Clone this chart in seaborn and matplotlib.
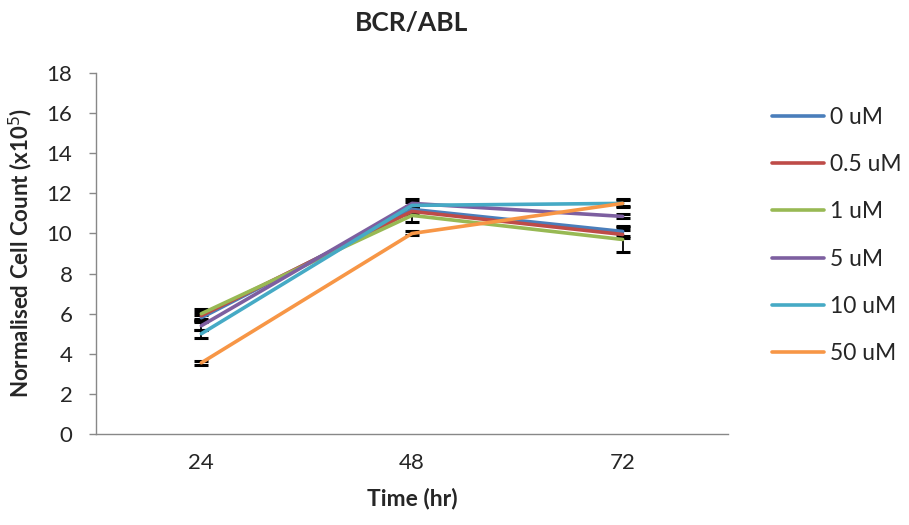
import pandas as pd
import matplotlib.pyplot as plt
import seaborn as sns

# Data
times = ["24", "48", "72"]
doses = ["0 uM", "0.5 uM", "1 uM", "5 uM", "10 uM", "50 uM"]
counts_0 = [5.8, 11.2, 10.1]
counts_05 = [5.9, 11.1, 9.95]
counts_1 = [6.0, 10.9, 9.7]
counts_5 = [5.4, 11.5, 10.85]
counts_10 = [5.0, 11.4, 11.5]
counts_50 = [3.55, 10.0, 11.5]
err_0 = [0.15, 0.15, 0.25]
err_05 = [0.2, 0.2, 0.2]
err_1 = [0.25, 0.35, 0.6]
err_5 = [0.2, 0.2, 0.1]
err_10 = [0.2, 0.15, 0.15]
err_50 = [0.1, 0.1, 0.2]
colors = ["#4A7EBB", "#BE4B48", "#98B954", "#7D5FA0", "#46AAC5", "#F79646"]

all_counts = [counts_0, counts_05, counts_1, counts_5, counts_10, counts_50]
all_errs = [err_0, err_05, err_1, err_5, err_10, err_50]

rows = []
for dose, vals, errs in zip(doses, all_counts, all_errs):
    for t, v, e in zip(times, vals, errs):
        rows.append({"Time": t, "Dose": dose, "Count": v, "Err": e})
df = pd.DataFrame(rows)

sns.set_style("white")
plt.rcParams["font.family"] = ["Lato", "DejaVu Sans"]

fig = plt.figure(figsize=(9.09, 5.25), dpi=100)
ax = fig.add_axes([0.1056, 0.1733, 0.6953, 0.6876])

# error bars first, lines on top
for dose, vals, errs in zip(doses, all_counts, all_errs):
    ax.errorbar([0, 1, 2], vals, yerr=errs, fmt="none", ecolor="black",
                elinewidth=1.3, capsize=5, capthick=2.2, zorder=2)

sns.lineplot(data=df, x="Time", y="Count", hue="Dose", hue_order=doses,
             palette=colors, linewidth=2.6, ax=ax, sort=False, zorder=3)

ax.set_xlim(-0.5, 2.5)
ax.set_ylim(0, 18)
ax.set_yticks(range(0, 19, 2))
ax.set_xticks([0, 1, 2])
ax.set_xticklabels(times)
ax.set_xticks([-0.5, 0.5, 1.5, 2.5], minor=True)
ax.tick_params(axis="x", which="major", length=0, labelsize=16, pad=14)
ax.tick_params(axis="x", which="minor", length=5, width=1, color="#888888", direction="out")
ax.tick_params(axis="y", length=5, width=1, color="#888888", direction="out",
               labelsize=16, left=True, pad=12)

for side in ["top", "right"]:
    ax.spines[side].set_visible(False)
for side in ["left", "bottom"]:
    ax.spines[side].set_color("#888888")
    ax.spines[side].set_linewidth(1)

ax.set_xlabel("Time (hr)", fontsize=16.5, fontweight="bold", labelpad=10)
ax.set_ylabel("Normalised Cell Count (x10$^5$)", fontsize=16, fontweight="bold", labelpad=8)
ax.set_title("BCR/ABL", fontsize=19, fontweight="bold", pad=30)

handles, labels = ax.get_legend_handles_labels()
ax.get_legend().remove()
fig.legend(handles, labels, loc="upper left", bbox_to_anchor=(0.849, 0.797),
           frameon=False, fontsize=16.5, labelspacing=1.15, handlelength=2.3,
           handletextpad=0.25, borderaxespad=0, borderpad=0)

plt.savefig("out.png", dpi=100)
